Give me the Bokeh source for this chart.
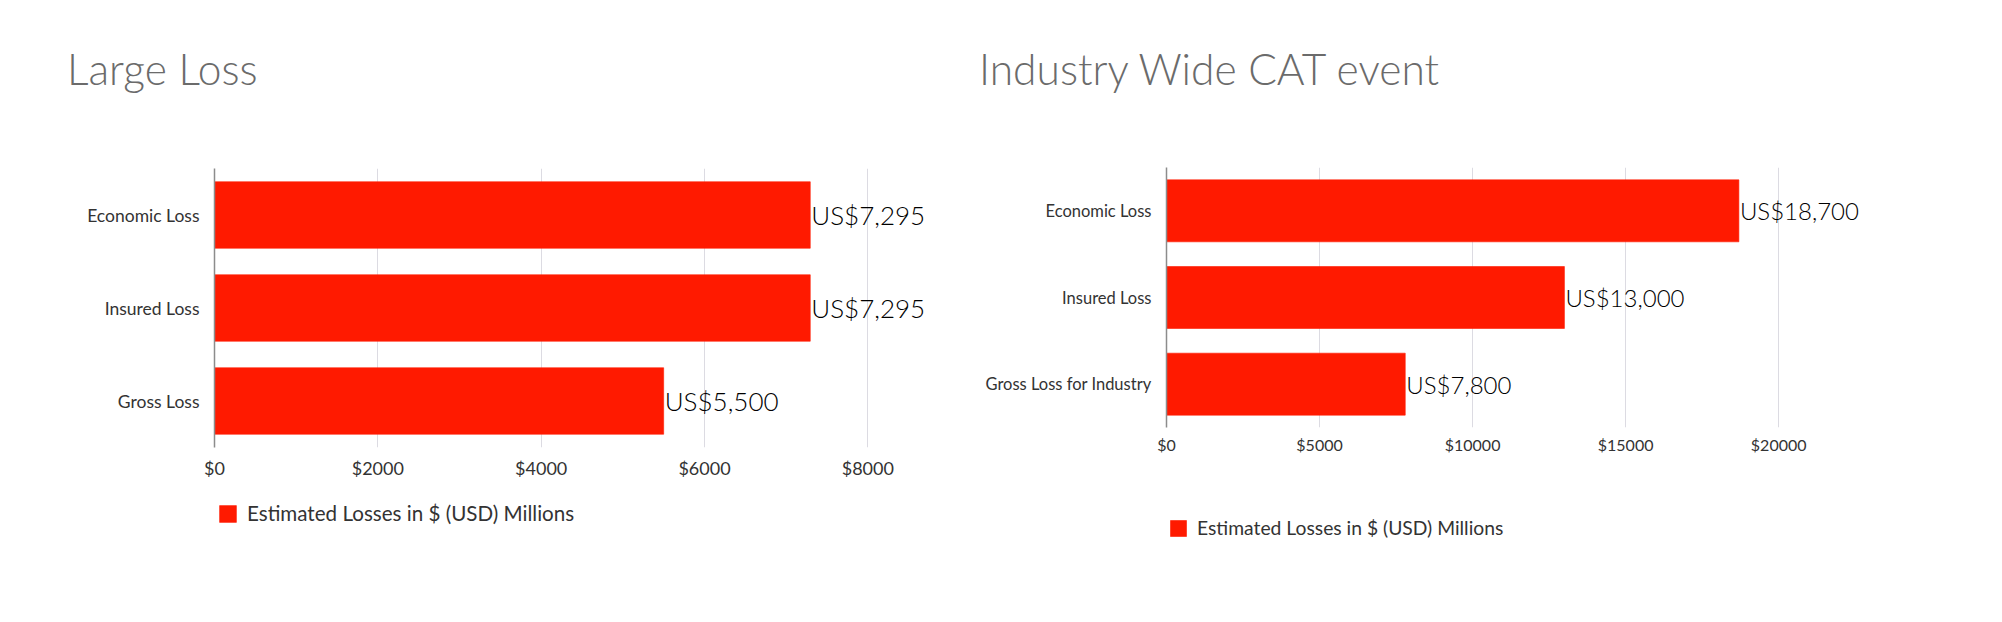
from bokeh.plotting import figure
from bokeh.layouts import row, column
from bokeh.models import (FactorRange, Range1d, FixedTicker, Legend, LegendItem,
                          ColumnDataSource, Div)
from bokeh.core.properties import value
from bokeh.embed import file_html
from bokeh.resources import INLINE

# ---------------- data ----------------
left_title = "Large Loss"
left_categories = ["Economic Loss", "Insured Loss", "Gross Loss"]
left_values = [7295, 7295, 5500]
left_ticks = [0, 2000, 4000, 6000, 8000]
left_tick_labels = ["$0", "$2000", "$4000", "$6000", "$8000"]

right_title = "Industry Wide CAT event"
right_categories = ["Economic Loss", "Insured Loss", "Gross Loss for Industry"]
right_values = [18700, 13000, 7800]
right_ticks = [0, 5000, 10000, 15000, 20000]
right_tick_labels = ["$0", "$5000", "$10000", "$15000", "$20000"]

series_name = "Estimated Losses in $ (USD) Millions"

BAR = "#ff1a00"
LIGHT_FONT = "Lato Light, Lato"
FONT = "Lato"
DIV_H = 110
CHART_H = 380
LEG_H = 120


def make_title(text, width, pad_left):
    html = (f'<div style="font-family: \'Lato Light\', Lato, sans-serif; font-size: 42.5px; '
            f'line-height: 43px; color: #6b6b6b; padding-top: 47px; '
            f'padding-left: {pad_left}px; white-space: nowrap;">{text}</div>')
    return Div(text=html, width=width, height=DIV_H, margin=0)


def make_chart(cats, vals, ticks, tick_labels, x_end, width,
               frame_w, frame_h, b_left, b_top, label_px, tick_px, cat_px, tick_standoff):
    src = ColumnDataSource(dict(cat=cats, val=vals,
                                lab=[f"US${v:,}" for v in vals]))
    p = figure(y_range=FactorRange(factors=list(reversed(cats)), range_padding=0),
               x_range=Range1d(0, x_end),
               width=width, height=CHART_H,
               min_border_left=b_left, min_border_top=b_top,
               min_border_right=width - b_left - frame_w,
               min_border_bottom=CHART_H - b_top - frame_h,
               output_backend="svg", toolbar_location=None,
               background_fill_color="white", border_fill_color="white")
    p.outline_line_color = None
    p.hbar(y="cat", right="val", left=0, height=0.715, source=src,
           fill_color=BAR, line_color=BAR, line_alpha=0.6)
    p.text(x="val", y="cat", text="lab", source=src, x_offset=1,
           text_baseline="middle", text_align="left",
           text_font=value(LIGHT_FONT), text_font_size=f"{label_px}px",
           text_color="#000000")

    p.xaxis.ticker = FixedTicker(ticks=ticks)
    p.xaxis.major_label_overrides = {t: l for t, l in zip(ticks, tick_labels)}
    p.xaxis.axis_line_color = None
    p.xaxis.major_tick_line_color = None
    p.xaxis.minor_tick_line_color = None
    p.xaxis.major_tick_out = 0
    p.xaxis.major_label_standoff = tick_standoff
    p.xaxis.major_label_text_font = FONT
    p.xaxis.major_label_text_font_size = f"{tick_px}px"
    p.xaxis.major_label_text_color = "#333333"

    p.yaxis.axis_line_color = "#8c8c8c"
    p.yaxis.axis_line_width = 1.5
    p.yaxis.major_tick_line_color = None
    p.yaxis.minor_tick_line_color = None
    p.yaxis.major_tick_out = 0
    p.yaxis.major_label_standoff = 15
    p.yaxis.major_label_text_font = FONT
    p.yaxis.major_label_text_font_size = f"{cat_px}px"
    p.yaxis.major_label_text_color = "#333333"

    p.xgrid.ticker = FixedTicker(ticks=ticks)
    p.xgrid.grid_line_color = "#dcdbe2"
    p.ygrid.grid_line_color = None
    return p


def make_legend(cats, vals, width, legend_px, glyph_px, loc):
    # small legend-only figure; its hbar renderer carries the series style
    lp = figure(width=width, height=LEG_H, x_range=Range1d(0, 1), y_range=Range1d(0, 1),
                x_axis_location=None, y_axis_location=None,
                min_border=0, output_backend="svg", toolbar_location=None,
                background_fill_color="white", border_fill_color="white")
    lp.outline_line_color = None
    lp.grid.visible = False
    r = lp.hbar(y=list(range(len(cats))), right=vals, left=0, height=0.7,
                fill_color=BAR, line_color=BAR, line_alpha=0.6)
    r.visible = False
    legend = Legend(items=[LegendItem(label=series_name, renderers=[r])],
                    location=loc, orientation="horizontal",
                    glyph_width=glyph_px, glyph_height=glyph_px, label_height=glyph_px,
                    label_standoff=9, padding=0, margin=0, spacing=0,
                    border_line_color=None, background_fill_alpha=0,
                    label_text_font=FONT, label_text_font_size=f"{legend_px}px",
                    label_text_color="#333333", label_text_baseline="middle")
    lp.add_layout(legend, "center")
    return lp


left_w, right_w = 975, 1025
chart_top = DIV_H
leg_top = DIV_H + CHART_H

left = make_chart(left_categories, left_values, left_ticks, left_tick_labels,
                  x_end=9000, width=left_w, frame_w=735, frame_h=279,
                  b_left=214, b_top=168 - chart_top, label_px=26, tick_px=18, cat_px=17.5,
                  tick_standoff=9)
# legend frame is aligned with the chart frame in the column layout
left_leg = make_legend(left_categories, left_values, left_w, 20.6, 21,
                       (3, LEG_H - (525 - leg_top)))

right = make_chart(right_categories, right_values, right_ticks, right_tick_labels,
                   x_end=23000, width=right_w, frame_w=704, frame_h=260,
                   b_left=191, b_top=167 - chart_top, label_px=24, tick_px=16, cat_px=16.5,
                   tick_standoff=7)
right_leg = make_legend(right_categories, right_values, right_w, 19.3, 20,
                        (2, LEG_H - (539 - leg_top)))

layout = row(column(make_title(left_title, left_w, 67), left, left_leg, spacing=0),
             column(make_title(right_title, right_w, 4), right, right_leg, spacing=0),
             spacing=0)

open("out.html", "w").write(file_html(layout, INLINE))
